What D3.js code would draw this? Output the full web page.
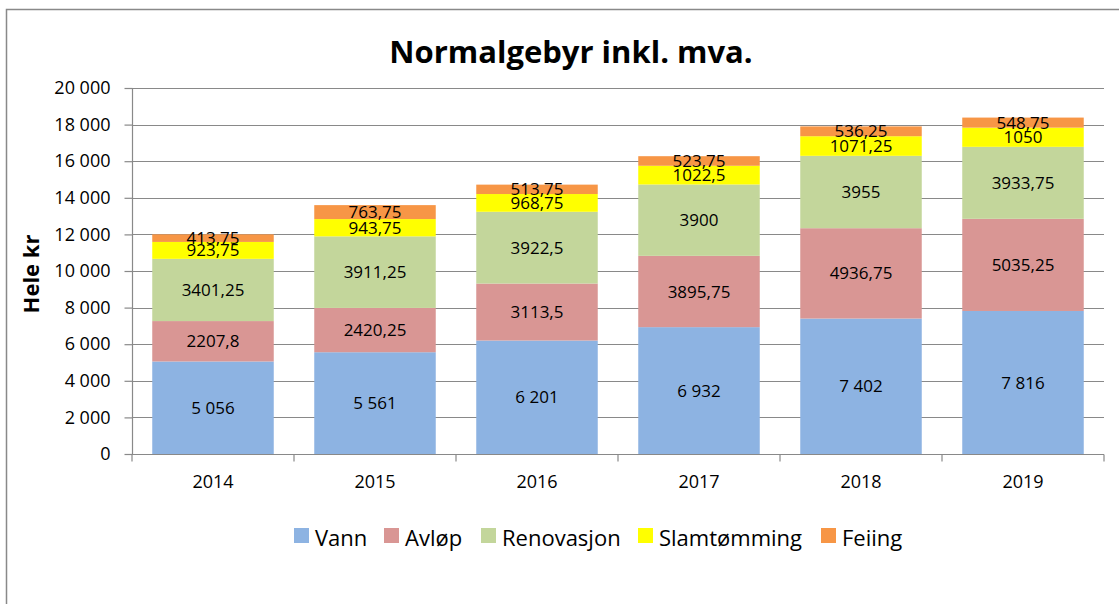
<!DOCTYPE html>
<html>
<head>
<meta charset="utf-8">
<script src="https://cdn.jsdelivr.net/npm/d3@7"></script>
<style>
  body { margin: 0; background: #fff; }
  text { font-family: "Open Sans", Lato, sans-serif; fill: #000; }
</style>
</head>
<body>
<div id="chart"></div>
<script>
const years = ['2014', '2015', '2016', '2017', '2018', '2019'];
const seriesNames = ['Vann', 'Avløp', 'Renovasjon', 'Slamtømming', 'Feiing'];
const seriesColors = ['#8DB3E2', '#D99694', '#C3D69B', '#FFFF00', '#F79646'];
const vann = [5056, 5561, 6201, 6932, 7402, 7816];
const avlop = [2207.8, 2420.25, 3113.5, 3895.75, 4936.75, 5035.25];
const renovasjon = [3401.25, 3911.25, 3922.5, 3900, 3955, 3933.75];
const slam = [923.75, 943.75, 968.75, 1022.5, 1071.25, 1050];
const feiing = [413.75, 763.75, 513.75, 523.75, 536.25, 548.75];
const yTicks = [0, 2000, 4000, 6000, 8000, 10000, 12000, 14000, 16000, 18000, 20000];

const allSeries = [vann, avlop, renovasjon, slam, feiing];

// rows for d3.stack
const rows = years.map((y, i) => {
    const r = {year: y};
    seriesNames.forEach((s, j) => { r[s] = allSeries[j][i]; });
    return r;
});

const W = 1119, H = 604;
const plotLeft = 132, plotRight = 1104, plotTop = 88, plotBottom = 454;
const gridColor = "#898989";

const svg = d3.select("#chart").append("svg")
    .attr("width", W).attr("height", H);

// outer chart border
svg.append("rect")
    .attr("x", 6.5).attr("y", 9.5)
    .attr("width", W + 20).attr("height", H + 20)
    .attr("fill", "none").attr("stroke", gridColor).attr("stroke-width", 1.5);

const x = d3.scaleBand().domain(years).range([plotLeft, plotRight]).paddingInner(0.25).paddingOuter(0.125);
const y = d3.scaleLinear().domain([0, 20000]).range([plotBottom, plotTop]);

const fmtThousands = (v) => d3.format(",")(v).replace(/,/g, " ");

// gridlines
svg.append("g")
    .selectAll("line")
    .data(yTicks.slice(1))
    .enter().append("line")
    .attr("x1", plotLeft).attr("x2", plotRight)
    .attr("y1", (d) => Math.round(y(d)) + 0.5)
    .attr("y2", (d) => Math.round(y(d)) + 0.5)
    .attr("stroke", gridColor).attr("stroke-width", 1.2);

// y axis
const yAxis = svg.append("g")
    .attr("transform", "translate(" + (plotLeft + 0.5) + ",0)")
    .call(d3.axisLeft(y).tickValues(yTicks).tickSize(8).tickPadding(14).tickFormat(fmtThousands));
yAxis.selectAll("line, path").attr("stroke", gridColor).attr("stroke-width", 1.2);
yAxis.select(".domain").attr("d", "M0," + y(20000) + "V" + y(0));
yAxis.selectAll("text").style("font-family", "Open Sans").style("font-size", "18px").attr("fill", "#000");

// x axis
const xAxis = svg.append("g")
    .attr("transform", "translate(0," + (plotBottom + 0.5) + ")")
    .call(d3.axisBottom(x).tickSize(0).tickPadding(21));
xAxis.select(".domain").attr("d", "M" + plotLeft + ",0H" + plotRight).attr("stroke", gridColor).attr("stroke-width", 1.2);
xAxis.selectAll("text").style("font-family", "Open Sans").style("font-size", "18px").attr("fill", "#000");
// category ticks at band boundaries
xAxis.selectAll(".bound")
    .data(d3.range(years.length + 1))
    .enter().append("line")
    .attr("x1", (i) => plotLeft + i * (plotRight - plotLeft) / years.length)
    .attr("x2", (i) => plotLeft + i * (plotRight - plotLeft) / years.length)
    .attr("y1", 0).attr("y2", 7)
    .attr("stroke", gridColor).attr("stroke-width", 1.2);

// stacked bars
const stack = d3.stack().keys(seriesNames);
const layers = stack(rows);

const layerG = svg.selectAll(".layer")
    .data(layers)
    .enter().append("g")
    .attr("class", "layer")
    .attr("fill", (d, i) => seriesColors[i]);

layerG.selectAll("rect")
    .data((d) => d)
    .enter().append("rect")
    .attr("x", (d) => x(d.data.year))
    .attr("width", x.bandwidth())
    .attr("y", (d) => y(d[1]))
    .attr("height", (d) => y(d[0]) - y(d[1]));

// labels
layers.forEach((layer, i) => {
    svg.append("g").selectAll("text")
        .data(layer)
        .enter().append("text")
        .attr("x", (d) => x(d.data.year) + x.bandwidth() / 2)
        .attr("y", (d) => (y(d[0]) + y(d[1])) / 2)
        .attr("dy", "0.36em")
        .attr("text-anchor", "middle")
        .style("font-size", "17px")
        .text((d) => {
            const val = allSeries[i][years.indexOf(d.data.year)];
            return i === 0 ? fmtThousands(val) : String(val).replace(".", ",");
        });
});

// title
svg.append("text")
    .attr("x", 571).attr("y", 63)
    .attr("text-anchor", "middle")
    .style("font-size", "31px").style("font-weight", "bold")
    .text("Normalgebyr inkl. mva.");

// y axis title
svg.append("text")
    .attr("transform", "translate(39,274) rotate(-90)")
    .attr("text-anchor", "middle")
    .style("font-size", "22px").style("font-weight", "bold")
    .text("Hele kr");

// legend
const legendX = [294, 384, 481, 638, 821];
const legend = svg.selectAll(".legend")
    .data(seriesNames)
    .enter().append("g")
    .attr("class", "legend")
    .attr("transform", (d, i) => "translate(" + legendX[i] + ",528)");
legend.append("rect")
    .attr("width", 15).attr("height", 15)
    .attr("fill", (d, i) => seriesColors[i]);
legend.append("text")
    .attr("x", 21).attr("y", 18)
    .style("font-size", "22px")
    .text((d) => d);
</script>
</body>
</html>
